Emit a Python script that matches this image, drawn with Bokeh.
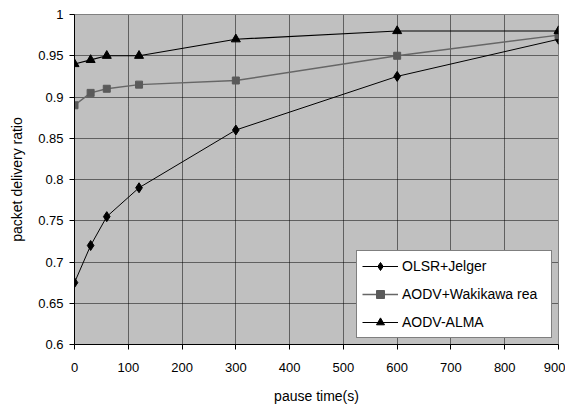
from bokeh.plotting import figure
from bokeh.embed import file_html
from bokeh.resources import INLINE
from bokeh.models import NumeralTickFormatter, FixedTicker, Range1d

pause_time = [0, 30, 60, 120, 300, 600, 900]
olsr_jelger = [0.675, 0.72, 0.755, 0.79, 0.86, 0.925, 0.97]
aodv_wakikawa = [0.89, 0.905, 0.91, 0.915, 0.92, 0.95, 0.975]
aodv_alma = [0.94, 0.945, 0.95, 0.95, 0.97, 0.98, 0.98]

x_ticks = [0, 100, 200, 300, 400, 500, 600, 700, 800, 900]
y_ticks = [0.6, 0.65, 0.7, 0.75, 0.8, 0.85, 0.9, 0.95, 1.0]

FONT = "Liberation Sans"

p = figure(frame_width=484, frame_height=330, output_backend="svg", toolbar_location=None,
           x_range=Range1d(0, 900), y_range=Range1d(0.6, 1.0),
           min_border_left=74, min_border_right=7, min_border_top=14, min_border_bottom=62)

p.background_fill_color = "#C0C0C0"
p.border_fill_color = "white"
p.outline_line_color = "#808080"

p.xaxis.ticker = FixedTicker(ticks=x_ticks)
p.yaxis.ticker = FixedTicker(ticks=y_ticks)
p.yaxis.formatter = NumeralTickFormatter(format="0.[00]")

for ax in (p.xaxis[0], p.yaxis[0]):
    ax.axis_line_color = "black"
    ax.major_tick_line_color = "black"
    ax.major_tick_in = 0
    ax.major_tick_out = 5
    ax.minor_tick_line_color = None
    ax.major_label_text_font = FONT
    ax.major_label_text_font_size = "13px"
    ax.major_label_text_color = "black"
    ax.axis_label_text_font = FONT
    ax.axis_label_text_font_size = "14px"
    ax.axis_label_text_font_style = "normal"
    ax.axis_label_text_color = "black"

p.xaxis.axis_label = "pause time(s)"
p.yaxis.axis_label = "packet delivery ratio"
p.xaxis.major_label_standoff = 13
p.xaxis.axis_label_standoff = 13
p.yaxis.major_label_standoff = 6
p.yaxis.axis_label_standoff = 10

p.xgrid.grid_line_color = "black"
p.ygrid.grid_line_color = "black"
p.xgrid.grid_line_dash = "1 1"
p.ygrid.grid_line_dash = "1 1"
p.xgrid.grid_line_width = 1
p.ygrid.grid_line_width = 1

p.line(pause_time, olsr_jelger, color="black", line_width=1, legend_label="OLSR+Jelger")
p.scatter(pause_time, olsr_jelger, marker="diamond", size=10, color="black", legend_label="OLSR+Jelger")

p.line(pause_time, aodv_wakikawa, color="#666666", line_width=1.5, legend_label="AODV+Wakikawa rea")
p.scatter(pause_time, aodv_wakikawa, marker="square", size=7, color="#5a5a5a", legend_label="AODV+Wakikawa rea")

p.line(pause_time, aodv_alma, color="black", line_width=1.2, legend_label="AODV-ALMA")
p.scatter(pause_time, aodv_alma, marker="triangle", size=9, color="black", legend_label="AODV-ALMA")

lg = p.legend[0]
lg.location = "bottom_right"
lg.margin = 6
lg.padding = 5
lg.spacing = 8
lg.glyph_width = 36
lg.glyph_height = 20
lg.label_height = 20
lg.label_width = 144
lg.label_standoff = 4
lg.label_text_font = FONT
lg.label_text_font_size = "14px"
lg.label_text_color = "black"
lg.border_line_color = "black"
lg.border_line_width = 1
lg.background_fill_color = "white"
lg.background_fill_alpha = 1.0

open("out.html", "w").write(file_html(p, INLINE))
